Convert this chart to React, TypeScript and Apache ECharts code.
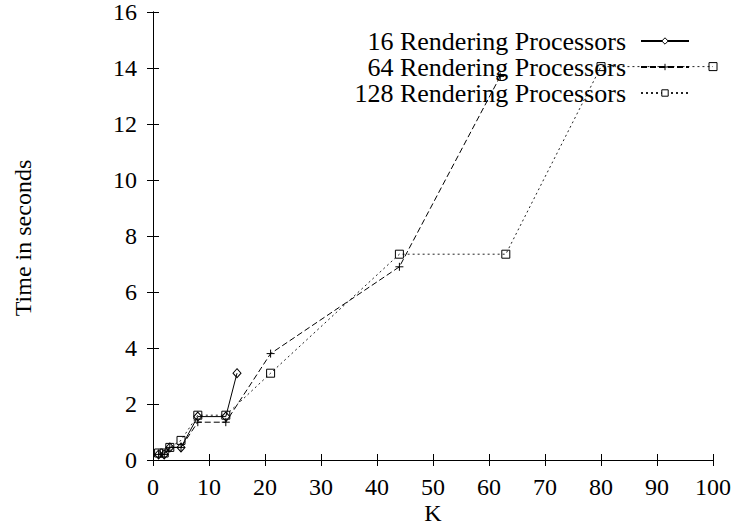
import React, { useEffect, useRef } from "react";
import * as echarts from "echarts";

const kValues16 = [1, 2, 3, 5, 8, 13, 15];
const time16 = [0.2, 0.2, 0.45, 0.45, 1.55, 1.55, 3.1];
const kValues64 = [1, 2, 3, 5, 8, 13, 21, 44, 62];
const time64 = [0.2, 0.2, 0.45, 0.45, 1.35, 1.35, 3.8, 6.9, 13.7];
const kValues128 = [1, 2, 3, 5, 8, 13, 21, 44, 63, 80, 100];
const time128 = [0.25, 0.25, 0.45, 0.7, 1.6, 1.6, 3.1, 7.35, 7.35, 14.05, 14.05];
const seriesNames = [
  "16 Rendering Processors",
  "64 Rendering Processors",
  "128 Rendering Processors",
];
const xTitle = "K";
const yTitle = "Time in seconds";

const FONT = "Liberation Serif";

function pairs(xs: number[], ys: number[]) {
  return xs.map((x, i) => [x, ys[i]]);
}

export default function App() {
  const ref = useRef<HTMLDivElement>(null);
  useEffect(() => {
    if (!ref.current) return;
    const chart = echarts.init(ref.current, null, { renderer: "svg" });
    const axisLine = { show: true, lineStyle: { color: "#000", width: 1 } };
    const tick = { show: true, inside: true, length: 6, lineStyle: { color: "#000", width: 1 } };
    const label = { color: "#000", fontSize: 24, fontFamily: FONT };
    const symStyle = { color: "transparent", borderColor: "#000", borderWidth: 1 };
    chart.setOption({
      animation: false,
      backgroundColor: "#fff",
      textStyle: { fontFamily: FONT },
      grid: { left: 153, right: 21, top: 10, bottom: 65, containLabel: false },
      xAxis: [
        {
          type: "value", min: 0, max: 100, interval: 10, position: "bottom",
          axisLine, axisTick: tick, splitLine: { show: false },
          axisLabel: { ...label, margin: 15 },
        },
        {
          type: "value", min: 0, max: 100, interval: 10, position: "top",
          axisLine, axisTick: tick, splitLine: { show: false },
          axisLabel: { show: false },
        },
      ],
      yAxis: [
        {
          type: "value", min: 0, max: 16, interval: 2, position: "left",
          axisLine, axisTick: tick, splitLine: { show: false },
          axisLabel: { ...label, margin: 16 },
        },
        {
          type: "value", min: 0, max: 16, interval: 2, position: "right",
          axisLine, axisTick: tick, splitLine: { show: false },
          axisLabel: { show: false },
        },
      ],
      legend: {
        orient: "vertical",
        align: "right",
        right: 44,
        top: 28,
        padding: 0,
        itemGap: 0,
        itemWidth: 48,
        itemHeight: 8,
        itemStyle: { color: "#fff", borderColor: "#000", borderWidth: 1 },
        textStyle: { color: "#000", fontSize: 26, fontFamily: FONT, padding: [0, 10, 0, 0] },
        data: seriesNames,
      },
      graphic: [
        {
          type: "text", x: 23, y: 238, rotation: Math.PI / 2,
          style: { text: yTitle, fontSize: 24, fontFamily: FONT, fill: "#000", align: "center", verticalAlign: "middle" },
        },
        {
          type: "text", x: 433, y: 513,
          style: { text: xTitle, fontSize: 24, fontFamily: FONT, fill: "#000", align: "center", verticalAlign: "middle" },
        },
      ],
      series: [
        {
          name: seriesNames[0], type: "line", data: pairs(kValues16, time16),
          symbol: "diamond", symbolSize: [8, 9], showAllSymbol: true,
          lineStyle: { color: "#000", width: 1, type: "solid" },
          itemStyle: symStyle,
        },
        {
          name: seriesNames[1], type: "line", data: pairs(kValues64, time64),
          symbol: "path://M5,0L5,10M0,5L10,5", symbolSize: 8, showAllSymbol: true,
          lineStyle: { color: "#000", width: 1, type: [6, 3] },
          itemStyle: symStyle,
        },
        {
          name: seriesNames[2], type: "line", data: pairs(kValues128, time128),
          symbol: "rect", symbolSize: 8, showAllSymbol: true,
          lineStyle: { color: "#222", width: 1, type: [2, 3] },
          itemStyle: symStyle,
        },
      ],
    });
    return () => chart.dispose();
  }, []);
  return (
    <div
      ref={ref}
      style={{ position: "absolute", left: 0, top: 0, width: 734, height: 525 }}
    />
  );
}
